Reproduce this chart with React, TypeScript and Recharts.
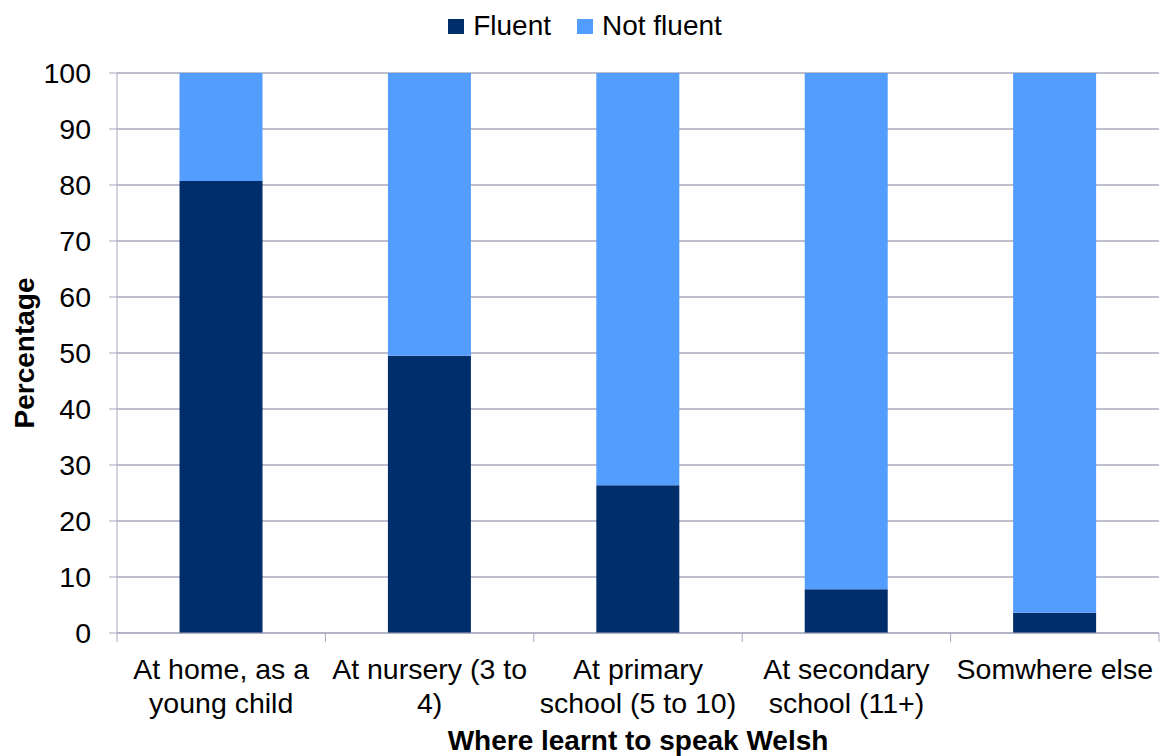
import { Bar, BarChart, CartesianGrid, Legend, XAxis, YAxis } from "recharts";

const categories = [
  "At home, as a\nyoung child",
  "At nursery (3 to\n4)",
  "At primary\nschool (5 to 10)",
  "At secondary\nschool (11+)",
  "Somwhere else",
];
const fluent = [80.7, 49.5, 26.4, 7.8, 3.6];
const notFluent = [19.3, 50.5, 73.6, 92.2, 96.4];
const yTicks = [0, 10, 20, 30, 40, 50, 60, 70, 80, 90, 100];

const data = categories.map((name, i) => ({
  name,
  fluent: fluent[i],
  notFluent: notFluent[i],
}));

const FONT = '"Liberation Sans", Arial, sans-serif';
const AXIS = "#a7a9be";
const DARK = "#002e6a";
const LIGHT = "#539dff";

function CategoryTick(props: any) {
  const { x, y, payload, index } = props;
  const half = payload.offset || 104;
  const lines = String(payload.value).split("\n");
  return (
    <g>
      <line x1={x - half} x2={x - half} y1={y} y2={y + 9} stroke={AXIS} />
      {index === categories.length - 1 && (
        <line x1={x + half} x2={x + half} y1={y} y2={y + 9} stroke={AXIS} />
      )}
      <text textAnchor="middle" fontSize={28.5} fontFamily={FONT} fill="#000">
        {lines.map((l, i) => (
          <tspan key={i} x={x} y={y + 46 + i * 34}>
            {l}
          </tspan>
        ))}
      </text>
    </g>
  );
}

function LegendContent(props: any) {
  const items = props.payload || [];
  return (
    <div
      style={{
        display: "flex",
        justifyContent: "center",
        alignItems: "center",
        fontFamily: FONT,
        fontSize: 28,
        lineHeight: "28px",
        paddingLeft: 6,
      }}
    >
      {items.map((it: any, i: number) => (
        <div
          key={i}
          style={{ display: "flex", alignItems: "center", marginRight: i === 0 ? 26 : 0 }}
        >
          <span
            style={{
              display: "inline-block",
              width: 16,
              height: 15,
              background: it.color,
              marginRight: 9,
            }}
          />
          <span style={{ color: "#000" }}>{it.value}</span>
        </div>
      ))}
    </div>
  );
}

export default function App() {
  return (
    <div style={{ position: "absolute", left: 0, top: 0, background: "#fff" }}>
      <BarChart
        width={1164}
        height={756}
        data={data}
        barCategoryGap="30%"
        margin={{ top: 73, right: 5, bottom: 0, left: 0 }}
      >
        <CartesianGrid vertical={false} stroke={AXIS} strokeWidth={1.5} />
        <XAxis
          dataKey="name"
          height={123}
          stroke={AXIS}
          tickLine={false}
          tickSize={0}
          tickMargin={0}
          interval={0}
          tick={<CategoryTick />}
          label={{
            value: "Where learnt to speak Welsh",
            position: "insideBottom",
            offset: 6,
            fontSize: 28,
            fontWeight: "bold",
            fontFamily: FONT,
            fill: "#000",
          }}
        />
        <YAxis
          width={117}
          domain={[0, 100]}
          ticks={yTicks}
          stroke={AXIS}
          tickSize={8}
          tickMargin={18}
          tick={{ fontSize: 28.5, fontFamily: FONT, fill: "#000" }}
          label={{
            value: "Percentage",
            angle: -90,
            position: "insideLeft",
            offset: 24,
            fontSize: 28,
            fontWeight: "bold",
            fontFamily: FONT,
            fill: "#000",
            style: { textAnchor: "middle" },
          }}
        />
        <Legend
          verticalAlign="middle"
          align="center"
          layout="horizontal"
          wrapperStyle={{ top: 12, left: 0, width: 1164 }}
          content={<LegendContent />}
        />
        <Bar
          dataKey="fluent"
          name="Fluent"
          stackId="a"
          fill={DARK}
          isAnimationActive={false}
        />
        <Bar
          dataKey="notFluent"
          name="Not fluent"
          stackId="a"
          fill={LIGHT}
          isAnimationActive={false}
        />
      </BarChart>
    </div>
  );
}
